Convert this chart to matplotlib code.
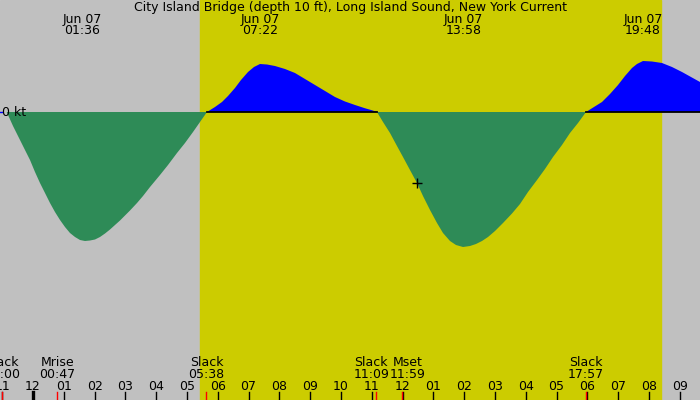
import numpy as np
import matplotlib
matplotlib.use("Agg")
import matplotlib.pyplot as plt

# tidal current, City Island Bridge, Jun 07 (hours since midnight, knots)
hours = [-0.854, -0.649, -0.422, -0.260, -0.097, 0.065, 0.227, 0.390, 0.552, 0.714,
         0.877, 1.039, 1.201, 1.364, 1.526, 1.688, 1.851, 2.013, 2.175, 2.338,
         2.500, 2.662, 2.825, 2.987, 3.149, 3.377, 3.571, 3.799, 4.123, 4.383,
         4.675, 4.935, 5.195, 5.422, 5.649,
         5.909, 6.136, 6.331, 6.558, 6.753, 6.981, 7.175, 7.370, 7.597, 7.857,
         8.182, 8.506, 8.831, 9.156, 9.481, 9.805, 10.130, 10.455, 10.779, 11.006, 11.169,
         11.364, 11.591, 11.818, 12.013, 12.240, 12.468, 12.662, 12.890, 13.117, 13.312,
         13.539, 13.734, 13.961, 14.188, 14.383, 14.578, 14.773, 15.000, 15.260, 15.552, 15.812,
         16.071, 16.364, 16.623, 16.883, 17.175, 17.435, 17.695, 17.955,
         18.214, 18.474, 18.734, 18.994, 19.221, 19.448, 19.610, 19.805, 20.097, 20.422,
         20.747, 21.071, 21.364, 21.656]
speed = [0.0, -0.28, -0.56, -0.76, -0.96, -1.20, -1.42, -1.62, -1.82, -2.00,
         -2.16, -2.30, -2.42, -2.50, -2.56, -2.58, -2.57, -2.55, -2.50, -2.43,
         -2.35, -2.26, -2.17, -2.07, -1.97, -1.82, -1.68, -1.50, -1.26, -1.06,
         -0.82, -0.62, -0.40, -0.20, 0.0,
         0.10, 0.20, 0.32, 0.48, 0.64, 0.80, 0.90, 0.96, 0.95, 0.92,
         0.86, 0.78, 0.66, 0.54, 0.42, 0.30, 0.21, 0.14, 0.075, 0.035, 0.0,
         -0.20, -0.42, -0.68, -0.90, -1.16, -1.42, -1.68, -1.96, -2.22, -2.42,
         -2.58, -2.66, -2.70, -2.68, -2.64, -2.58, -2.50, -2.38, -2.22, -2.03, -1.84,
         -1.60, -1.36, -1.14, -0.90, -0.66, -0.42, -0.22, 0.0,
         0.10, 0.20, 0.36, 0.54, 0.72, 0.88, 0.96, 1.02, 1.01, 0.98,
         0.90, 0.80, 0.70, 0.60]

# max current labels on top
max_hours = [1.600, 7.367, 13.967, 19.800]
max_labels = ["01:36", "07:22", "13:58", "19:48"]

# events on the bottom
event_names = ["Slack", "Mrise", "Slack", "Slack", "Mset", "Slack"]
event_hours = [-1.0, 0.783, 5.633, 11.150, 11.983, 17.950]
event_labels = ["23:00", "00:47", "05:38", "11:09", "11:59", "17:57"]

sunrise, sunset = 5.42, 20.39
now_hour, now_speed = 12.468, -1.42

title = "City Island Bridge (depth 10 ft), Long Island Sound, New York Current"

W, H = 700, 400
px_per_hour = 30.8
x0 = -33 / px_per_hour
x1 = x0 + W / px_per_hour
ky = 50.0  # px per knot
y_top = 112 / ky
y_bot = -(H - 112) / ky

fig = plt.figure(figsize=(7, 4), dpi=100)
ax = fig.add_axes([0, 0, 1, 1])
ax.set_xlim(x0, x1)
ax.set_ylim(y_bot, y_top)
ax.axis("off")
ax.add_patch(plt.Rectangle((0, 0), 1, 1, transform=ax.transAxes, color="#c0c0c0", zorder=0))
ax.axvspan(sunrise, sunset, color="#cccc00", zorder=1)

t = np.array(hours)
v = np.array(speed)
ax.fill_between(t, 0, v, where=v >= 0, interpolate=True, color="#0000ff", lw=0, zorder=2)
ax.fill_between(t, 0, v, where=v <= 0, interpolate=True, color="#2e8b57", lw=0, zorder=2)
ax.plot(t, np.where(v >= 0, 0.0, np.nan), color="black", lw=1.3, zorder=3)

ax.plot(now_hour, now_speed, marker="+", color="black", markersize=7, mew=1, zorder=4)

ax.text(2 / px_per_hour + x0, 0, "0 kt", fontsize=9, va="center", ha="left", zorder=6)
ax.plot([x0, x0 + 2 / px_per_hour], [0, 0], color="#0000ff", lw=1, zorder=4)

tr = ax.get_xaxis_transform()
def fy(py):
    return 1 - py / H

ax.text(0.5, fy(7), title, transform=ax.transAxes, ha="center", va="center", fontsize=9)
for h, lab in zip(max_hours, max_labels):
    ax.text(h, fy(19), "Jun 07", transform=tr, ha="center", va="center", fontsize=9)
    ax.text(h, fy(31), lab, transform=tr, ha="center", va="center", fontsize=9)

# nudge close event labels apart
pos = list(event_hours)
min_gap = 36 / px_per_hour
for i in range(1, len(pos)):
    gap = pos[i] - pos[i - 1]
    if gap < min_gap:
        d = (min_gap - gap) / 2
        pos[i - 1] -= d
        pos[i] += d
for h, p, name, lab in zip(event_hours, pos, event_names, event_labels):
    ax.text(p, fy(362), name, transform=tr, ha="center", va="center", fontsize=9)
    ax.text(p, fy(374), lab, transform=tr, ha="center", va="center", fontsize=9)
    ax.plot([h, h], [0, fy(392)], transform=tr, color="red", lw=1, zorder=5)

for hr in range(-1, 22):
    lab = "%02d" % (((hr % 12) or 12))
    ax.text(hr, fy(386), lab, transform=tr, ha="center", va="center", fontsize=9)
    lw = 2.4 if hr == 0 else 1
    ax.plot([hr, hr], [0, fy(392)], transform=tr, color="black", lw=lw, zorder=4)

fig.savefig("out.png", dpi=100)
